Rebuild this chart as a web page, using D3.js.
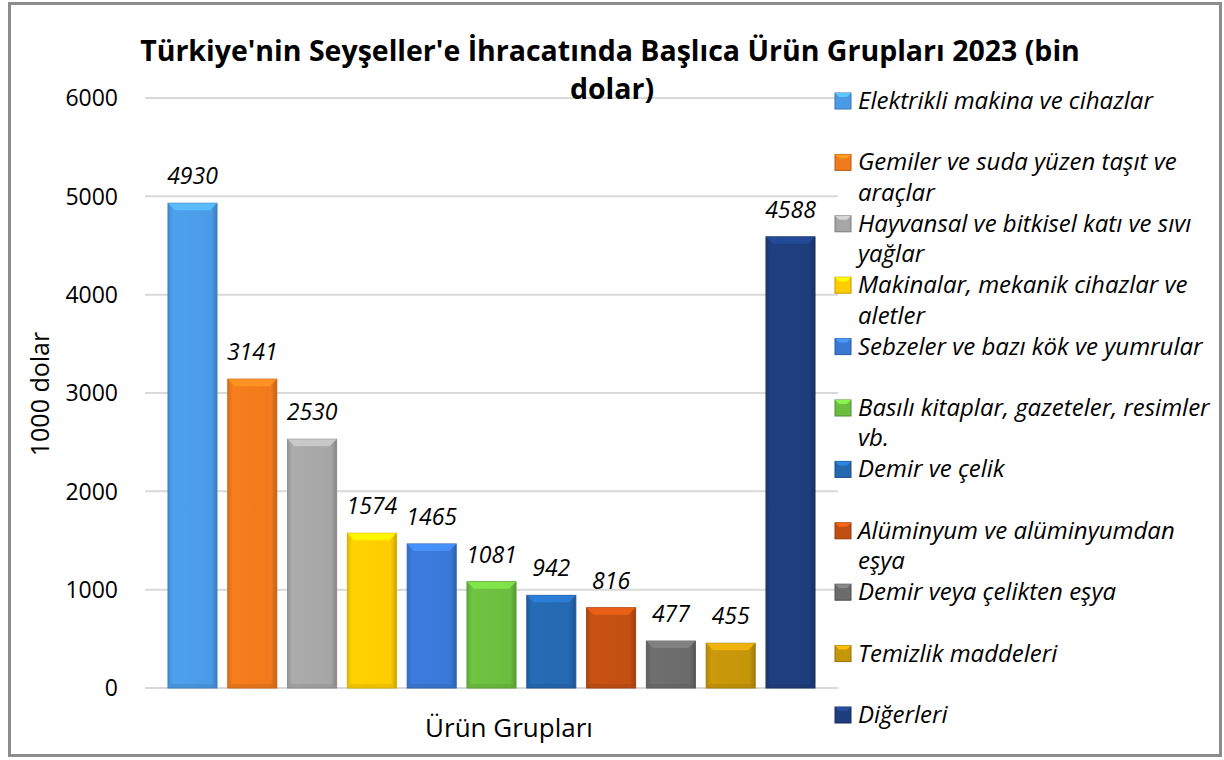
<!DOCTYPE html>
<html><head><meta charset="utf-8">
<script src="https://cdn.jsdelivr.net/npm/d3@7"></script>
<style>body{margin:0;background:#fff;} svg{display:block;}</style>
</head><body>
<svg id="c" width="1224" height="760"></svg>
<script>
const categories = ["Elektrikli makina ve cihazlar","Gemiler ve suda yüzen taşıt ve araçlar","Hayvansal ve bitkisel katı ve sıvı yağlar","Makinalar, mekanik cihazlar ve aletler","Sebzeler ve bazı kök ve yumrular","Basılı kitaplar, gazeteler, resimler vb.","Demir ve çelik","Alüminyum ve alüminyumdan eşya","Demir veya çelikten eşya","Temizlik maddeleri","Diğerleri"];
const legendLines = [["Elektrikli makina ve cihazlar"],["Gemiler ve suda yüzen taşıt ve","araçlar"],["Hayvansal ve bitkisel katı ve sıvı","yağlar"],["Makinalar, mekanik cihazlar ve","aletler"],["Sebzeler ve bazı kök ve yumrular"],["Basılı kitaplar, gazeteler, resimler","vb."],["Demir ve çelik"],["Alüminyum ve alüminyumdan","eşya"],["Demir veya çelikten eşya"],["Temizlik maddeleri"],["Diğerleri"]];
const values = [4930,3141,2530,1574,1465,1081,942,816,477,455,4588];
const colors = ["#4a9be6","#f07a1c","#a6a6a6","#ffcc00","#3a78d6","#6bbd3f","#2468b0","#c24f12","#6b6b6b","#c5950a","#1e3d7c"];
const yTicks = [0,1000,2000,3000,4000,5000,6000];
const title1 = "Türkiye'nin Seyşeller'e İhracatında Başlıca Ürün Grupları 2023 (bin";
const title2 = "dolar)";
const yTitle = "1000 dolar";
const xTitle = "Ürün Grupları";

const svg = d3.select("#c");
const font = "'Open Sans', 'Noto Sans', sans-serif";
svg.append("rect").attr("x",9.5).attr("y",3.5).attr("width",1211).attr("height",752)
  .attr("fill","#fff").attr("stroke","#8c8c8c").attr("stroke-width",3);

const y = d3.scaleLinear().domain([0,6000]).range([688,98]);
const x = d3.scaleBand().domain(d3.range(values.length)).range([162.6,820.4]).paddingInner(0.18).paddingOuter(0.09);

const defs = svg.append("defs");
colors.forEach((c,i)=>{
  const g = defs.append("linearGradient").attr("id","g"+i).attr("x1","0").attr("x2","1").attr("y1","0").attr("y2","0");
  g.append("stop").attr("offset","0").attr("stop-color",d3.color(c).darker(0.3));
  g.append("stop").attr("offset","0.1").attr("stop-color",d3.color(c).brighter(0.1));
  g.append("stop").attr("offset","0.88").attr("stop-color",c);
  g.append("stop").attr("offset","1").attr("stop-color",d3.color(c).darker(0.6));
});

svg.append("g").selectAll("line").data(yTicks).join("line")
  .attr("x1",145).attr("x2",838).attr("y1",d=>y(d)).attr("y2",d=>y(d))
  .attr("stroke","#d9d9d9").attr("stroke-width",2);

svg.append("g").selectAll("text").data(yTicks).join("text")
  .attr("x",118).attr("y",d=>y(d)).attr("dy","0.36em").attr("text-anchor","end")
  .attr("font-family",font).attr("font-size",23).attr("fill","#000").text(d=>d);

const bars = svg.append("g").selectAll("g").data(values).join("g");
bars.append("rect")
  .attr("x",(d,i)=>x(i)).attr("y",d=>y(d)).attr("width",x.bandwidth()).attr("height",d=>y(0)-y(d))
  .attr("fill",(d,i)=>`url(#g${i})`).attr("stroke",(d,i)=>d3.color(colors[i]).darker(0.5)).attr("stroke-width",1);
bars.append("path").attr("d",(d,i)=>{
  const x0=x(i), w=x.bandwidth(), t=y(d), b=7;
  return `M${x0},${t}L${x0+w},${t}L${x0+w-b},${t+b}L${x0+b},${t+b}Z`;
}).attr("fill",(d,i)=>d3.color(colors[i]).brighter(0.6)).attr("opacity",0.85);
bars.append("path").attr("d",(d,i)=>{
  const x0=x(i), w=x.bandwidth(), bt=y(0), b=4;
  return `M${x0},${bt}L${x0+w},${bt}L${x0+w-b},${bt-b}L${x0+b},${bt-b}Z`;
}).attr("fill",(d,i)=>d3.color(colors[i]).darker(0.4)).attr("opacity",0.5);

bars.append("text")
  .attr("x",(d,i)=>x(i)+x.bandwidth()/2).attr("y",d=>y(d)-19)
  .attr("text-anchor","middle").attr("font-family",font).attr("font-style","italic")
  .attr("font-size",23).attr("fill","#000").text(d=>d);

svg.append("text").attr("x",610).attr("y",61).attr("text-anchor","middle")
  .attr("font-family",font).attr("font-weight","bold").attr("font-size",28.5).text(title1);
svg.append("text").attr("x",612).attr("y",99).attr("text-anchor","middle")
  .attr("font-family",font).attr("font-weight","bold").attr("font-size",28.5).text(title2);

svg.append("text").attr("transform","translate(49,394) rotate(-90)").attr("text-anchor","middle")
  .attr("font-family",font).attr("font-size",25).text(yTitle);
svg.append("text").attr("x",509).attr("y",737).attr("text-anchor","middle")
  .attr("font-family",font).attr("font-size",26).text(xTitle);

const leg = svg.append("g").selectAll("g").data(categories).join("g")
  .attr("transform",(d,i)=>`translate(835,${101+i*61.4})`);
leg.append("rect").attr("x",0).attr("y",-8).attr("width",16).attr("height",16)
  .attr("fill",(d,i)=>colors[i]).attr("stroke",(d,i)=>d3.color(colors[i]).darker(0.8)).attr("stroke-width",1);
leg.append("path").attr("d","M0,-8L16,-8L12,-4L4,-4Z").attr("fill",(d,i)=>d3.color(colors[i]).brighter(0.7));
leg.each(function(d,i){
  const t = d3.select(this).append("text").attr("x",23).attr("y",0)
    .attr("font-family",font).attr("font-style","italic").attr("font-size",24).attr("fill","#000");
  legendLines[i].forEach((ln,j)=>{
    t.append("tspan").attr("x",23).attr("dy", j===0 ? "0.33em" : "30.5").text(ln);
  });
});
</script>
</body></html>
